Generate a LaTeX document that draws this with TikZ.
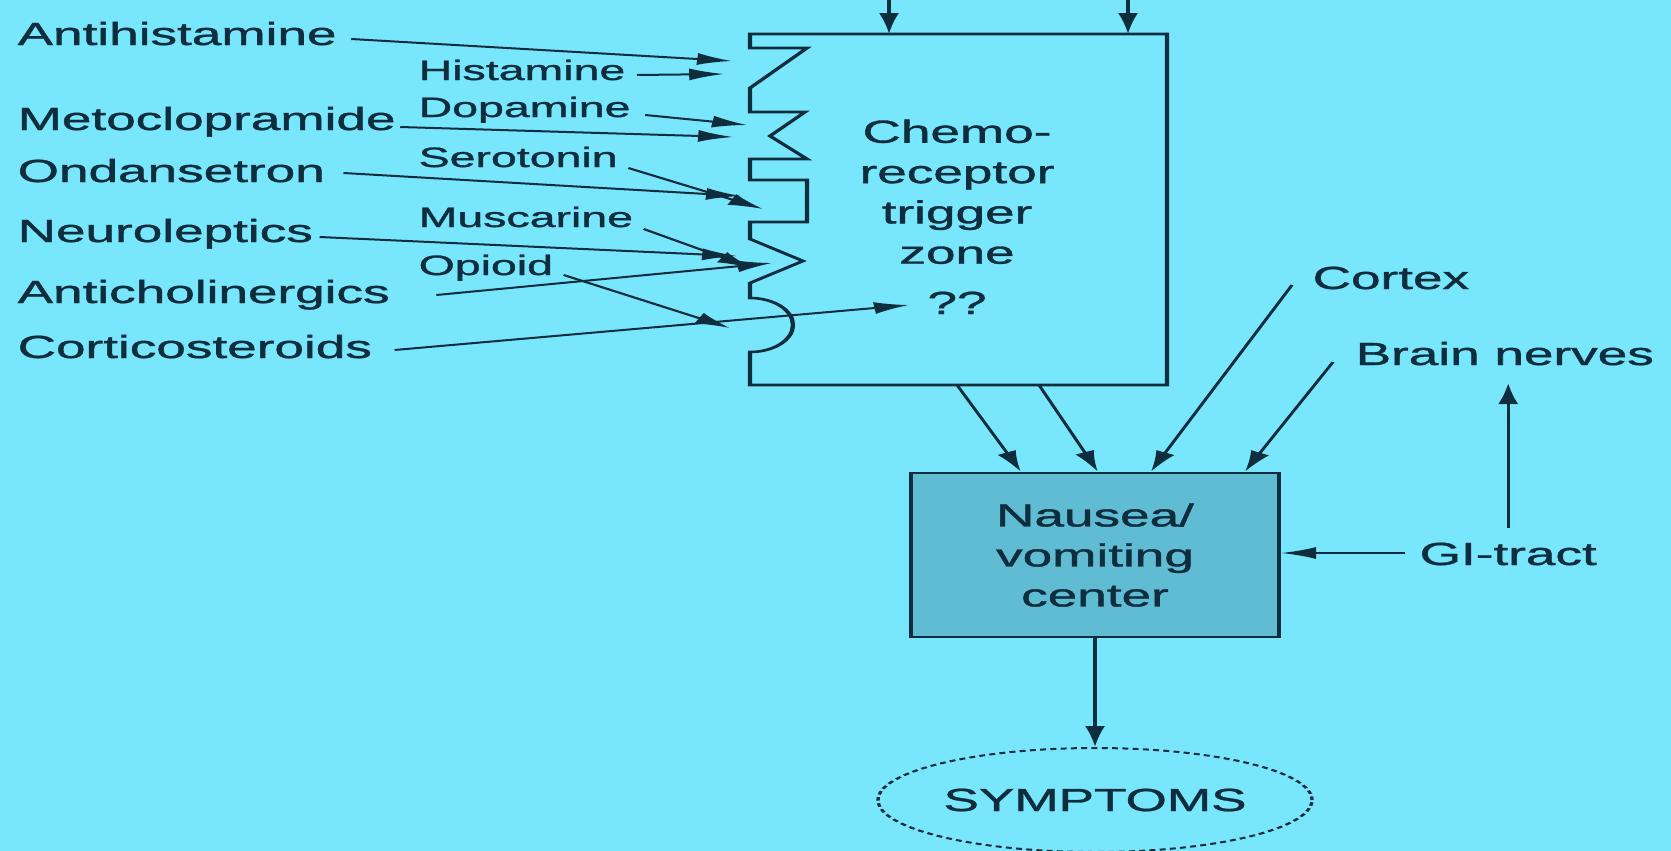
\documentclass[tikz,border=0pt]{standalone}
\usepackage{fontspec}
\setmainfont{Liberation Sans}[FakeBold=1]
\usetikzlibrary{arrows.meta,calc,shapes.geometric}
\definecolor{bgc}{HTML}{78E6FC}
\definecolor{boxc}{HTML}{5FBCD3}
\definecolor{ink}{HTML}{0E2E3E}
\tikzset{
  lbl/.style={inner sep=0pt, anchor=base west, text=ink, font=\fontsize{16}{20}\selectfont},
  slbl/.style={inner sep=0pt, anchor=base west, text=ink, font=\fontsize{14}{17}\selectfont},
  arr/.style={draw=ink, line width=1pt, -{Latex[length=10.5pt,width=6pt]}},
  outline/.style={draw=ink, line width=1.3pt, line join=miter},
}
\begin{document}
\begin{tikzpicture}[x=0.5pt,y=-0.5pt]
\fill[bgc] (0,0) rectangle (1671,851);
\useasboundingbox (0,0) rectangle (1671,851);
\begin{scope}[x=0.301205pt,y=-0.5pt,transform canvas={xscale=1.66}]
  % chemoreceptor trigger zone outline with receptor sites
  \draw[outline] (750,34) -- (1167,34) -- (1167,385) -- (750,385) -- (750,352)
    .. controls (773.7,352) and (793,339.9) .. (793,325)
    .. controls (793,310.1) and (773.7,298) .. (750,298)
    -- (750,283) -- (803,261) -- (750,239) -- (750,222) -- (807,222)
    -- (807,180) -- (750,180) -- (750,159) -- (807,159) -- (770,136)
    -- (805,112) -- (750,112) -- (750,88) -- (807,48) -- (750,48) -- cycle;
  \node[text=ink, font=\fontsize{16}{20.15}\selectfont, align=center, inner sep=0pt, anchor=base] (ctz) at (957,314) {Chemo-\\receptor\\trigger\\zone\\[5pt]??};

  % top inputs
  \coordinate (tin1) at (889,0);
  \coordinate (tin2) at (1128,0);
  \coordinate (ctop1) at (889,34);
  \coordinate (ctop2) at (1128,34);
  \draw[arr] (tin1) -- (ctop1);
  \draw[arr] (tin2) -- (ctop2);

  % receptor targets
  \coordinate (rAH) at (732,61);
  \coordinate (rHI) at (724,74);
  \coordinate (rMC) at (733,137);
  \coordinate (rDP) at (747,125);
  \coordinate (rOD) at (741,196);
  \coordinate (rSE) at (763,209);
  \coordinate (rNL) at (737,256);
  \coordinate (rMU) at (752,268);
  \coordinate (rAC) at (772,263);
  \coordinate (rOP) at (730,328);
  \coordinate (rCS) at (909,305);

  % drug labels
  \node[lbl] (ah) at (17,45) {Antihistamine};
  \node[lbl] (mc) at (17,130) {Metoclopramide};
  \node[lbl] (od) at (17,182) {Ondansetron};
  \node[lbl] (nl) at (17,242) {Neuroleptics};
  \node[lbl] (ac) at (17,303) {Anticholinergics};
  \node[lbl] (cs) at (17,358) {Corticosteroids};
  % receptor labels
  \node[slbl] (hi) at (418,80) {Histamine};
  \node[slbl] (dp) at (418,117) {Dopamine};
  \node[slbl] (se) at (418,167) {Serotonin};
  \node[slbl] (mu) at (418,227) {Muscarine};
  \node[slbl] (op) at (418,275) {Opioid};

  \draw[arr] ([shift={(14,-6)}]ah.base east) -- (rAH);
  \draw[arr] ([shift={(11,-5)}]hi.base east) -- (rHI);
  \draw[arr] ([shift={(4,-3)}]mc.base east) -- (rMC);
  \draw[arr] ([shift={(14,-2)}]dp.base east) -- (rDP);
  \draw[arr] ([shift={(18,-9)}]od.base east) -- (rOD);
  \draw[arr] ([shift={(10,1)}]se.base east) -- (rSE);
  \draw[arr] ([shift={(6,-5)}]nl.base east) -- (rNL);
  \draw[arr] ([shift={(10,2)}]mu.base east) -- (rMU);
  \draw[arr] ([shift={(46,-8)}]ac.base east) -- (rAC);
  \draw[arr] ([shift={(10,0)}]op.base east) -- (rOP);
  \draw[arr] ([shift={(22,-8)}]cs.base east) -- (rCS);

  % vomiting center
  \node[draw=ink, line width=1.3pt, fill=boxc, minimum width=110.84pt, minimum height=82pt, inner sep=0pt, align=center, text=ink, font=\fontsize{16}{20}\selectfont] (nv) at (1095,555) {Nausea/\\vomiting\\center};

  \coordinate (cb1) at (957,385);
  \coordinate (cb2) at (1039,385);
  \draw[arr] (cb1) -- ([shift={(112,0)}]nv.north west);
  \draw[arr] (cb2) -- ([shift={(189,0)}]nv.north west);

  \node[lbl] (cx) at (1312,289) {Cortex};
  \node[lbl] (bn) at (1355,365) {Brain nerves};
  \node[lbl] (gi) at (1419,565) {GI-tract};
  \draw[arr] ([shift={(-20,-4)}]cx.base west) -- ([shift={(242,0)}]nv.north west);
  \draw[arr] ([shift={(-22,-3)}]bn.base west) -- ([shift={(336,0)}]nv.north west);
  \coordinate (gis) at ([shift={(-14,-12)}]gi.base west);
  \draw[arr] (gis) -- (gis -| nv.east);
  \coordinate (giu) at ([shift={(0,-14)}]gi.north);
  \coordinate (bnd) at ([shift={(0,18)}]bn.base);
  \draw[arr] (giu) -- (giu |- bnd);

  % symptoms
  \node[ellipse, draw=ink, line width=1pt, dash pattern=on 1.8pt off 1.3pt, minimum width=130.72pt, minimum height=52pt, inner sep=0pt, text=ink, font=\fontsize{16}{20}\selectfont] (sy) at (1095,800) {SYMPTOMS};
  \draw[arr] (nv.south) -- (sy.north);
\end{scope}
\end{tikzpicture}
\end{document}
